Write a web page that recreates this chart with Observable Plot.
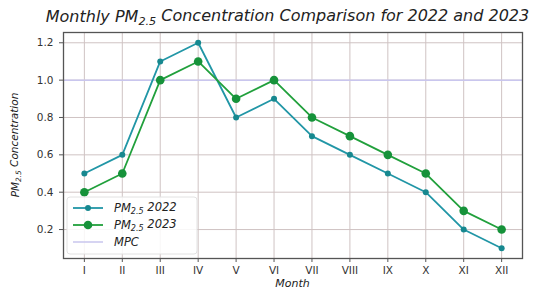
<!DOCTYPE html>
<html><head><meta charset="utf-8">
<script src="https://cdn.jsdelivr.net/npm/d3@7"></script>
<script src="https://cdn.jsdelivr.net/npm/@observablehq/plot@0.6"></script>
<style>
body{margin:0;background:#fff;}
svg{font-family:"DejaVu Sans",sans-serif;}
</style></head><body>
<div id="chart"></div>
<script>
const months = ["I","II","III","IV","V","VI","VII","VIII","IX","X","XI","XII"];
const pm2022 = [0.5,0.6,1.1,1.2,0.8,0.9,0.7,0.6,0.5,0.4,0.2,0.1];
const pm2023 = [0.4,0.5,1.0,1.1,0.9,1.0,0.8,0.7,0.6,0.5,0.3,0.2];
const mpc = 1.0;
const yTicks = [0.2,0.4,0.6,0.8,1.0,1.2];
const seriesNames = ["2022","2023"];

const c2022 = "#2196a6", c2023 = "#21a03c", cMpc = "#c9c6ee";
const rows2022 = months.map((m,i)=>({i:i+1, v:pm2022[i]}));
const rows2023 = months.map((m,i)=>({i:i+1, v:pm2023[i]}));
const idx = months.map((m,i)=>i+1);

const W=543,H=289, mL=63, mR=21, mT=32, mB=31;
const plot = Plot.plot({
  width:W, height:H, marginLeft:mL, marginRight:mR, marginTop:mT, marginBottom:mB,
  style:{fontFamily:"DejaVu Sans, sans-serif", fontSize:"10.5px", color:"#333", background:"#fff"},
  x:{type:"linear", domain:[0.45,12.55], label:null},
  y:{domain:[0.045,1.255], label:null},
  marks:[
    Plot.gridX(idx,{stroke:"#cfc3c3", strokeOpacity:1, strokeWidth:1}),
    Plot.gridY(yTicks,{stroke:"#cfc3c3", strokeOpacity:1, strokeWidth:1}),
    Plot.ruleY([mpc],{stroke:cMpc, strokeWidth:1.5}),
    Plot.line(rows2022,{x:"i", y:"v", stroke:c2022, strokeWidth:1.8}),
    Plot.dot(rows2022,{x:"i", y:"v", fill:"#17888f", r:3}),
    Plot.line(rows2023,{x:"i", y:"v", stroke:c2023, strokeWidth:1.8}),
    Plot.dot(rows2023,{x:"i", y:"v", fill:"#16923a", r:4.3}),
    Plot.frame({stroke:"#555", strokeWidth:1.3}),
    Plot.axisX({ticks:idx, tickFormat:d=>months[d-1], tickSize:4, tickPadding:4, label:null, stroke:"#555"}),
    Plot.axisY({ticks:yTicks, tickFormat:d3.format(".1f"), tickSize:4, tickPadding:6, label:null, stroke:"#555"})
  ]
});
document.getElementById("chart").appendChild(plot);
const svg = d3.select(plot);

function pmText(sel, before, after){
  sel.append("tspan").text(before+"PM");
  sel.append("tspan").attr("font-size","0.7em").attr("dy","0.3em").text("2.5");
  sel.append("tspan").attr("dy","-0.3em").text(after);
}
// title
const t = svg.append("text").attr("x",(mL+W-mR)/2 - 5).attr("y",22).attr("text-anchor","middle")
  .attr("font-style","italic").attr("font-size","16px").attr("fill","#222");
t.append("tspan").text("Monthly ");
pmText(t,""," Concentration Comparison for 2022 and 2023");
// y label
const yl = svg.append("text").attr("transform",`translate(19,${(mT+H-mB)/2}) rotate(-90)`)
  .attr("text-anchor","middle").attr("font-style","italic").attr("font-size","10.5px").attr("fill","#222");
pmText(yl,""," Concentration");
// x label
svg.append("text").attr("x",(mL+W-mR)/2).attr("y",287).attr("text-anchor","middle")
  .attr("font-style","italic").attr("font-size","11px").attr("fill","#222").text("Month");

// legend
const lg = svg.append("g").attr("transform","translate(67,197)");
lg.append("rect").attr("width",130).attr("height",57).attr("rx",3)
  .attr("fill","#fff").attr("fill-opacity",0.85).attr("stroke","#e2e2e2");
const entries = [
  {label:seriesNames[0], color:c2022, dot:"#17888f", r:3},
  {label:seriesNames[1], color:c2023, dot:"#16923a", r:4.3},
  {label:"MPC", color:cMpc, dot:null}
];
entries.forEach((e,k)=>{
  const y = 11 + k*17;
  lg.append("line").attr("x1",6).attr("x2",36).attr("y1",y).attr("y2",y)
    .attr("stroke",e.color).attr("stroke-width",e.dot?1.8:1.5);
  if(e.dot) lg.append("circle").attr("cx",21).attr("cy",y).attr("r",e.r).attr("fill",e.dot);
  const tx = lg.append("text").attr("x",47).attr("y",y+4).attr("text-anchor","start").attr("font-style","italic")
    .attr("font-size","11.5px").attr("fill","#222");
  if(e.dot){ pmText(tx,""," "+e.label); } else tx.text(e.label);
});
</script></body></html>
